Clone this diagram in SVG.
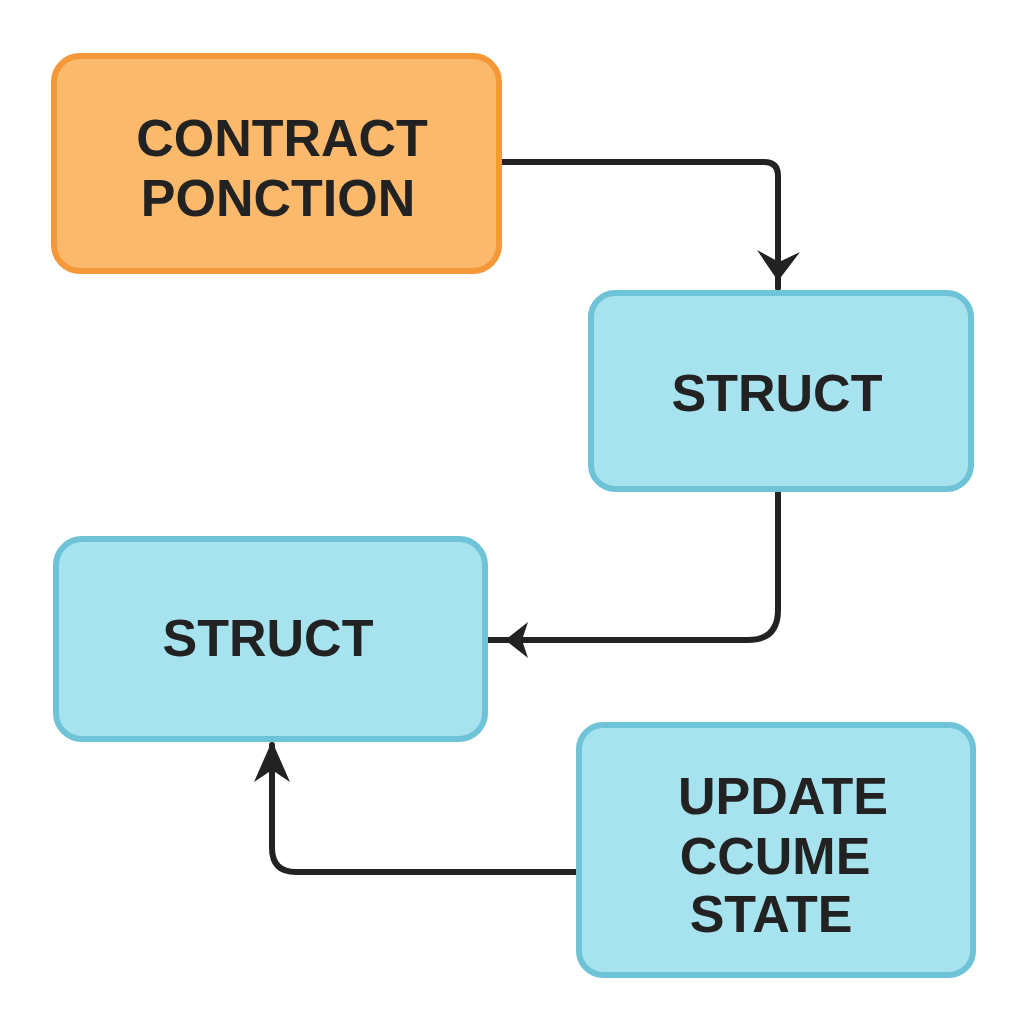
<svg xmlns="http://www.w3.org/2000/svg" width="1024" height="1024" viewBox="0 0 1024 1024">
<style>
.orange{fill:#FBB96B;stroke:#F4983A;stroke-width:6}
.blue{fill:#A6E3EE;stroke:#6EC3D6;stroke-width:6}
.lbl{font-family:"Liberation Sans",Arial,sans-serif;font-weight:bold;font-size:52px;fill:#222;text-anchor:middle}
.conn{fill:none;stroke:#222;stroke-width:6;stroke-linecap:round;stroke-linejoin:round}
.head{fill:#222}
</style>
<rect width="1024" height="1024" fill="#fff"/>
<g id="connectors">
<path class="conn" d="M500,162 H764 Q778,162 778,176 V288"/>
<path class="head" d="M757,250 L778,281 L800,252 L779,262 Z"/>
<path class="conn" d="M778,492 V610 Q778,640 748,640 H488"/>
<path class="head" d="M505,640 L528,622 L522,640 L528,658 Z"/>
<path class="conn" d="M577,872 H296 Q272,872 272,848 V745"/>
<path class="head" d="M272,741 L254,782 L272,770 L290,782 Z"/>
</g>
<g id="node-contract">
<rect class="orange" x="54" y="56" width="445" height="215" rx="26"/>
<text class="lbl" x="282" y="156">CONTRACT</text>
<text class="lbl" x="278" y="216">PONCTION</text>
</g>
<g id="node-struct1">
<rect class="blue" x="591" y="293" width="380" height="196" rx="24"/>
<text class="lbl" x="777" y="411">STRUCT</text>
</g>
<g id="node-struct2">
<rect class="blue" x="56" y="539" width="429" height="200" rx="26"/>
<text class="lbl" x="268" y="656">STRUCT</text>
</g>
<g id="node-update">
<rect class="blue" x="579" y="725" width="394" height="250" rx="24"/>
<text class="lbl" x="783" y="814">UPDATE</text>
<text class="lbl" x="775" y="874">CCUME</text>
<text class="lbl" x="771" y="932">STATE</text>
</g>
</svg>
